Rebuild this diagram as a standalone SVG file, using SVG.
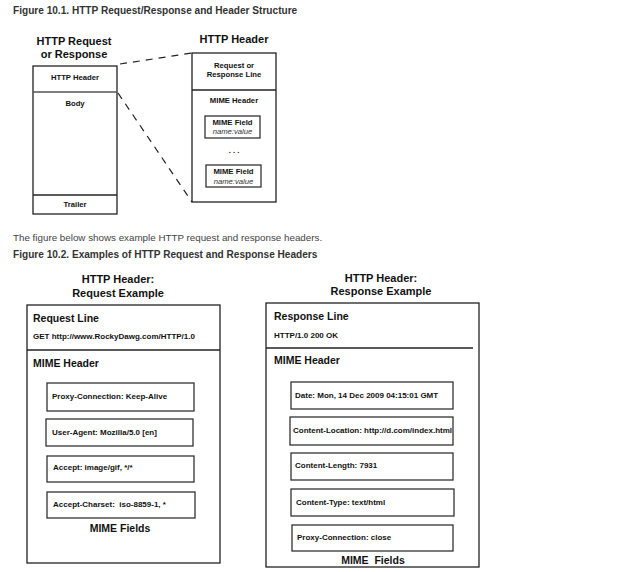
<svg xmlns="http://www.w3.org/2000/svg" width="640" height="572" viewBox="0 0 640 572">
<style>
text{font-family:"Liberation Sans",Arial,sans-serif;fill:#111}
.cap{font-weight:bold;font-size:10.1px;fill:#333}
.para{font-size:9.8px;fill:#444}
.h{font-weight:bold;font-size:11px;text-anchor:middle}
.s{font-weight:bold;font-size:8px}
.sm{font-weight:bold;font-size:7.7px;text-anchor:middle}
.it{font-style:italic;font-size:7.7px;text-anchor:middle;fill:#333}
.sec{font-weight:bold;font-size:10.5px}
.f{font-weight:bold;font-size:8px}
.box{fill:#fff;stroke:#222;stroke-width:1.3}
.fbox{fill:#fff;stroke:#333;stroke-width:1.3}
.dash{fill:none;stroke:#222;stroke-width:1.2;stroke-dasharray:7,6}
</style>
<rect width="640" height="572" fill="#fff"/>
<text class="cap" x="13" y="14">Figure 10.1. HTTP Request/Response and Header Structure</text>

<g id="request-or-response">
<text class="h" x="74" y="45">HTTP Request</text>
<text class="h" x="74" y="58">or Response</text>
<rect class="box" x="33" y="66" width="84" height="148"/>
<line x1="33" y1="92" x2="117" y2="92" stroke="#555" stroke-width="1.3"/>
<line x1="33" y1="195" x2="117" y2="195" stroke="#222" stroke-width="1.3"/>
<text class="sm" x="75" y="80">HTTP Header</text>
<text class="sm" x="75" y="106">Body</text>
<text class="sm" x="75" y="207">Trailer</text>
</g>

<g id="http-header">
<text class="h" x="234" y="43">HTTP Header</text>
<rect class="box" x="192" y="53" width="84" height="149"/>
<line x1="192" y1="90" x2="276" y2="90" stroke="#222" stroke-width="1.3"/>
<text class="sm" x="234" y="68">Request or</text>
<text class="sm" x="234" y="77">Response Line</text>
<text class="sm" x="234" y="103">MIME Header</text>
<rect class="fbox" x="205" y="116" width="55" height="22"/>
<text class="sm" x="232.5" y="125">MIME Field</text>
<text class="it" x="232.5" y="134">name:value</text>
<text class="sm" x="234" y="153">. . .</text>
<rect class="fbox" x="206" y="165" width="55" height="22"/>
<text class="sm" x="233.5" y="174">MIME Field</text>
<text class="it" x="233.5" y="184">name:value</text>
</g>

<g id="connectors">
<line class="dash" x1="120" y1="64" x2="192" y2="53"/>
<line class="dash" x1="118" y1="93" x2="192" y2="202"/>
</g>

<text class="para" x="13" y="241">The figure below shows example HTTP request and response headers.</text>
<text class="cap" x="13" y="258">Figure 10.2. Examples of HTTP Request and Response Headers</text>

<g id="request-example">
<text class="h" x="118" y="283">HTTP Header:</text>
<text class="h" x="118" y="297">Request Example</text>
<rect class="box" x="27" y="305" width="193" height="258"/>
<line x1="27" y1="350" x2="220" y2="350" stroke="#222" stroke-width="1.3"/>
<text class="sec" x="33" y="322">Request Line</text>
<text class="s" x="33" y="339">GET http://www.RockyDawg.com/HTTP/1.0</text>
<text class="sec" x="33" y="367">MIME Header</text>
<rect class="fbox" x="47" y="383" width="147" height="28"/>
<text class="f" x="52" y="399">Proxy-Connection: Keep-Alive</text>
<rect class="fbox" x="46" y="419" width="147" height="27"/>
<text class="f" x="52" y="435">User-Agent: Mozilla/5.0 [en]</text>
<rect class="fbox" x="47" y="456" width="147" height="26"/>
<text class="f" x="53" y="470">Accept: image/gif, */*</text>
<rect class="fbox" x="47" y="492" width="148" height="26"/>
<text class="f" x="53" y="507" xml:space="preserve">Accept-Charset:  iso-8859-1, *</text>
<text class="sec" x="120" y="532" text-anchor="middle">MIME Fields</text>
</g>

<g id="response-example">
<text class="h" x="381" y="282">HTTP Header:</text>
<text class="h" x="381" y="295">Response Example</text>
<rect class="box" x="266" y="303" width="213" height="264"/>
<line x1="266" y1="348" x2="473" y2="348" stroke="#222" stroke-width="1.3"/>
<text class="sec" x="274" y="320">Response Line</text>
<text class="s" x="274" y="338">HTTP/1.0 200 OK</text>
<text class="sec" x="274" y="364">MIME Header</text>
<rect class="fbox" x="291" y="382" width="162" height="27"/>
<text class="f" x="295" y="398">Date: Mon, 14 Dec 2009 04:15:01 GMT</text>
<rect class="fbox" x="290" y="417" width="163" height="28"/>
<text class="f" x="293" y="433">Content-Location: http://d.com/index.html</text>
<rect class="fbox" x="291" y="453" width="162" height="27"/>
<text class="f" x="295" y="468">Content-Length: 7931</text>
<rect class="fbox" x="291" y="489" width="163" height="27"/>
<text class="f" x="296" y="505">Content-Type: text/html</text>
<rect class="fbox" x="292" y="525" width="161" height="26"/>
<text class="f" x="297" y="540">Proxy-Connection: close</text>
<text class="sec" x="373" y="564" text-anchor="middle" xml:space="preserve">MIME  Fields</text>
</g>
</svg>
